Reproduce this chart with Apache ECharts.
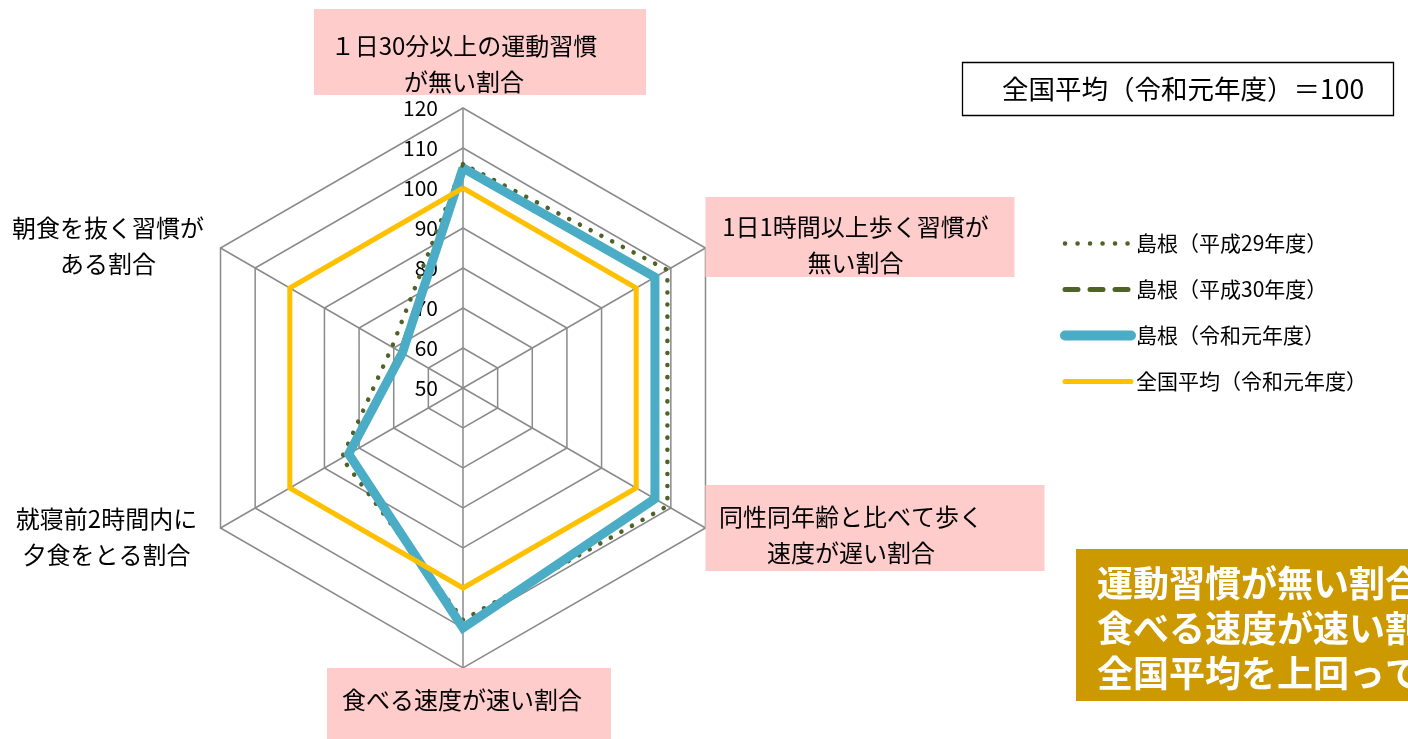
<!DOCTYPE html>
<html>
<head>
<meta charset="utf-8">
<script src="https://cdn.jsdelivr.net/npm/echarts@6/dist/echarts.min.js"></script>
<style>
html, body { margin: 0; padding: 0; background: #fff; }
#main { width: 1408px; height: 739px; }
</style>
</head>
<body>
<div id="main"></div>
<script>
const FONT = "'Noto Sans CJK JP', 'Noto Sans', sans-serif";

// indicators, counter-clockwise from the top
const categories = [
  "１日30分以上の運動習慣\nが無い割合",
  "朝食を抜く習慣が\nある割合",
  "就寝前2時間内に\n夕食をとる割合",
  "食べる速度が速い割合",
  "同性同年齢と比べて歩く\n速度が遅い割合",
  "1日1時間以上歩く習慣が\n無い割合"
];
const seriesNames = ["島根（平成29年度）", "島根（平成30年度）", "島根（令和元年度）", "全国平均（令和元年度）"];
const h29 = [106, 70.5, 85, 108, 109, 109];
const h30 = [105.5, 68, 83, 109.5, 105.5, 105.5];
const r1 = [105, 67.5, 83, 110, 105.4, 105.4];
const national = [100, 100, 100, 100, 100, 100];
const axisMin = 50;
const axisMax = 120;

const PINK = "#FFCCCC";

// rich-text layout of every indicator name
function nameText(name) {
  const i = categories.indexOf(name);
  const l = name.split("\n");
  switch (i) {
    case 0: return "{sp0| }{t0a|" + l[0] + "}\n{sp0| }{t0b|" + l[1] + "}\n{g13| }";
    case 1: return "{l1|" + l[0] + "}{sp1| }\n{l1|" + l[1] + "}{sp1| }\n{g5| }";
    case 2: return "{g17| }\n{l2|" + l[0] + "}{sp2| }\n{l2|" + l[1] + "}{sp2| }";
    case 3: return "{sp3| }{t3|" + l[0] + "}";
    case 4: return "{t4a|" + l[0] + "}\n{t4b|" + l[1] + "}";
    case 5: return "{t5a|" + l[0] + "}\n{t5b|" + l[1] + "}\n{g22| }";
  }
  return name;
}

function txt(extra) {
  return Object.assign({ fontSize: 24, fontFamily: FONT, color: "#000", align: "center" }, extra);
}
const gap = (h) => ({ height: h, width: 1, fontSize: 10, align: "center" });

const rich = {
  sp0: gap(10), sp1: gap(10), sp2: gap(10), sp3: gap(10),
  g5: gap(5), g13: gap(13), g17: gap(17), g22: gap(22),
  t0a: txt({ width: 300, height: 36, padding: [19, 32, 0, 0], backgroundColor: PINK }),
  t0b: txt({ width: 300, height: 27, padding: [4, 32, 0, 0], backgroundColor: PINK }),
  l1: txt({ width: 190, height: 36 }),
  l2: txt({ width: 188, height: 36 }),
  t3: txt({ width: 270, height: 36, padding: [14, 14, 21, 0], backgroundColor: PINK }),
  t4a: txt({ width: 291, height: 36, padding: [14, 48, 0, 0], backgroundColor: PINK }),
  t4b: txt({ width: 291, height: 36, padding: [0, 48, 0, 0], backgroundColor: PINK }),
  t5a: txt({ width: 300, height: 36, padding: [12, 9, 0, 0], backgroundColor: PINK }),
  t5b: txt({ width: 300, height: 28, padding: [4, 9, 0, 0], backgroundColor: PINK })
};
rich.sp0.width = 34;
rich.sp1.width = 17.5;
rich.sp2.width = 20;
rich.sp3.width = 12;

const lineStyles = [
  { color: "#4F6228", width: 4.5, type: [0.1, 12], cap: "round" },
  { color: "#4F6228", width: 5, type: [13, 12], cap: "round" },
  { color: "#4BACC6", width: 9, type: "solid", join: "miter" },
  { color: "#FFC000", width: 5, type: "solid", join: "miter" }
];
const legendDash = [[0.1, 12.4], [13, 12], "solid", "solid"];
const legendWidth = [4.5, 5, 10, 5];

const seriesValues = [h29, h30, r1, national];

const option = {
  animation: false,
  title: [
    {
      text: "全国平均（令和元年度）＝100",
      left: 962,
      top: 62,
      padding: [14, 30, 14, 40],
      borderColor: "#000",
      borderWidth: 1.3,
      textStyle: { fontSize: 26.5, fontWeight: "normal", color: "#000", fontFamily: FONT, lineHeight: 26 }
    },
    {
      text: "運動習慣が無い割合、\n食べる速度が速い割合が\n全国平均を上回っている",
      left: 1076,
      top: 549,
      padding: [12, 40, 5, 21],
      backgroundColor: "#CC9900",
      textStyle: { fontSize: 36, fontWeight: "bold", color: "#fff", lineHeight: 45, fontFamily: FONT }
    }
  ],
  legend: {
    orient: "vertical",
    left: 1055,
    top: 228,
    itemWidth: 66,
    itemHeight: 20,
    itemGap: 25,
    selectedMode: false,
    textStyle: { fontSize: 21, color: "#000", fontFamily: FONT },
    data: seriesNames.map((name, i) => ({
      name: name,
      icon: "line",
      itemStyle: {
        color: "transparent",
        borderColor: lineStyles[i].color,
        borderWidth: legendWidth[i],
        borderType: legendDash[i],
        borderCap: "round"
      }
    }))
  },
  radar: {
    center: [463, 388],
    radius: 280,
    startAngle: 90,
    shape: "polygon",
    splitNumber: 7,
    nameGap: 0,
    nameMoveOverlap: false,
    indicator: categories.map((name, i) => {
      const ind = { name: name, min: axisMin, max: axisMax, nameMoveOverlap: false };
      if (i === 0) ind.axisLabel = { show: true };
      return ind;
    }),
    axisName: {
      color: "#000",
      fontSize: 24,
      fontFamily: FONT,
      formatter: nameText,
      rich: rich
    },
    axisLine: { lineStyle: { color: "#8a8a8a", width: 1.5 } },
    splitLine: { lineStyle: { color: "#8a8a8a", width: 1.5 } },
    splitArea: { show: false },
    axisTick: { show: false },
    axisLabel: { show: false, fontSize: 21, color: "#000", margin: 25, fontFamily: FONT }
  },
  series: [
    {
      type: "radar",
      symbol: "none",
      data: seriesValues.map((v, i) => ({
        name: seriesNames[i],
        value: v,
        lineStyle: lineStyles[i],
        itemStyle: { color: lineStyles[i].color }
      }))
    }
  ]
};

const myChart = echarts.init(document.getElementById("main"));
myChart.setOption(option);
window.onresize = function () {
  myChart.resize();
};
</script>
</body>
</html>
